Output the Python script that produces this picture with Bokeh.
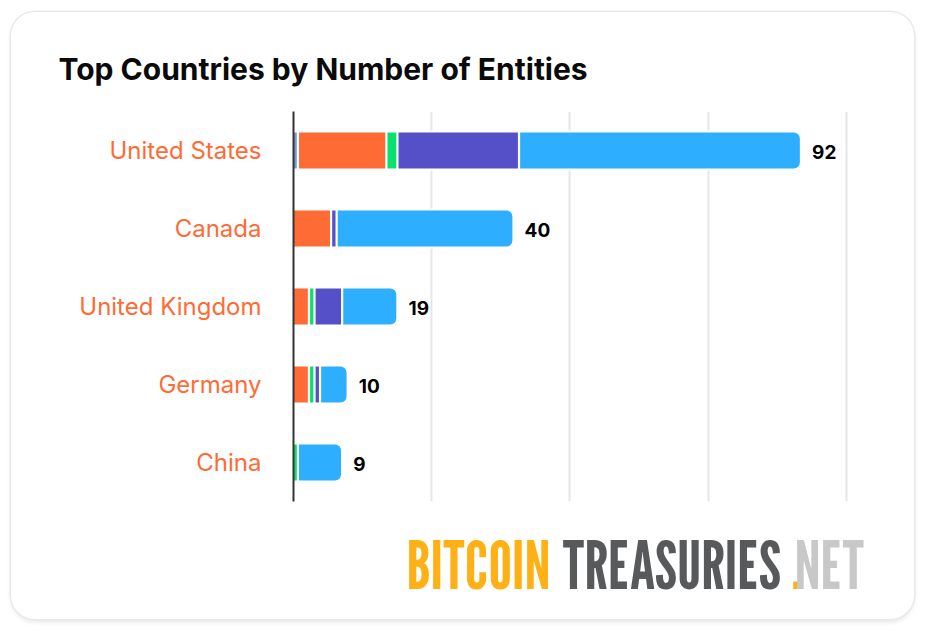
from bokeh.core.properties import value
from bokeh.embed import file_html
from bokeh.layouts import column
from bokeh.models import FactorRange, FixedTicker, Label, Range1d
from bokeh.plotting import figure
from bokeh.resources import INLINE
from bokeh.transform import dodge

TITLE = "Top Countries by Number of Entities"
countries = ["United States", "Canada", "United Kingdom", "Germany", "China"]
series_a = [1, 0, 0, 0, 0]
series_b = [16, 7, 3, 3, 0]
series_c = [2, 0, 1, 1, 1]
series_d = [22, 1, 5, 1, 0]
series_e = [51, 32, 10, 5, 8]
totals = [92, 40, 19, 10, 9]
x_ticks = [0, 25, 50, 75, 100]
logo_words = ["BITCOIN", "TREASURIES", ".", "NET"]

SERIES = [
    (series_a, "#7a9bd0"),
    (series_b, "#ff6b35"),
    (series_c, "#0ae06e"),
    (series_d, "#5650c8"),
    (series_e, "#2eaeff"),
]
ORANGE = "#ff6b35"
FONT = "Inter"
GAP = 0.4  # white gap between segments, in axis units

p = figure(
    width=903, height=490,
    x_range=Range1d(0, 100.4), y_range=FactorRange(factors=countries[::-1]),
    output_backend="svg", toolbar_location=None,
    min_border_left=282, min_border_right=66, min_border_top=99, min_border_bottom=1,
    background_fill_color=None, border_fill_color=None, outline_line_color=None,
    frame_align=False,
)
p.frame_width = 555
p.frame_height = 390

# title
p.title.text = TITLE
p.title.text_font = FONT
p.title.text_font_style = "bold"
p.title.text_font_size = "30px"
p.title.text_color = "#0a0a0a"
p.title.offset = -235
p.title.standoff = 49

# axes and grid
p.xaxis.visible = False
p.xgrid.ticker = FixedTicker(ticks=x_ticks)
p.xgrid.grid_line_color = "#e6e6e6"
p.xgrid.grid_line_width = 2
p.ygrid.visible = False

ax = p.yaxis[0]
ax.axis_line_color = "#333333"
ax.axis_line_width = 2
ax.major_tick_line_color = None
ax.minor_tick_line_color = None
ax.major_tick_out = 0
ax.major_label_standoff = 32
ax.major_label_text_font = FONT
ax.major_label_text_font_size = "24px"
ax.major_label_text_color = ORANGE

BAR_HEIGHT = 36 / 78

# white halo that cuts the grid lines around every bar
p.hbar(
    y=countries, left=[0] * len(totals), right=[t - GAP for t in totals], height=BAR_HEIGHT,
    fill_color="#ffffff", line_color="#ffffff", line_width=4,
)

# stacked segments
cum = [0] * len(countries)
for i, (vals, color) in enumerate(SERIES):
    keep = [j for j, v in enumerate(vals) if v > 0]
    data = dict(
        y=[countries[j] for j in keep],
        left=[cum[j] for j in keep],
        right=[cum[j] + vals[j] for j in keep],
    )
    radius = (0, 6, 6, 0) if i == len(SERIES) - 1 else 0
    p.hbar(
        y="y", left="left", right=dodge("right", -GAP), height=BAR_HEIGHT, source=data,
        fill_color=color, line_color=None, border_radius=radius,
    )
    cum = [c + v for c, v in zip(cum, vals)]

# totals
p.text(
    x=totals, y=countries, text=[str(t) for t in totals],
    x_offset=10, y_offset=1, text_align="left", text_baseline="middle",
    text_font=value(FONT), text_font_style="bold", text_font_size="19px", text_color="#000000",
)

# logo strip
logo = figure(
    width=903, height=117, x_range=Range1d(0, 903), y_range=Range1d(0, 117),
    output_backend="svg", toolbar_location=None, min_border=0,
    background_fill_color=None, border_fill_color=None, outline_line_color=None,
    frame_align=False,
)
logo.axis.visible = False
logo.grid.visible = False
logo_x = [395, 551, 780, 783]
logo_colors = ["#ffb014", "#58595b", "#ffb014", "#c8c8c8"]
for word, lx, color in zip(logo_words, logo_x, logo_colors):
    logo.add_layout(Label(
        x=lx, y=55, x_units="screen", y_units="screen", text=word, text_color=color,
        text_font="League Gothic", text_font_size="66px", text_baseline="alphabetic",
    ))

card = column(
    p, logo, spacing=0, width=903, height=607, margin=(12, 0, 0, 11),
    styles={
        "background": "#ffffff",
        "border-radius": "24px",
        "box-shadow": "0 0 0 1.5px #e9e9e9, 0 3px 5px rgba(0,0,0,0.10)",
    },
)

open("out.html", "w").write(file_html(card, INLINE))
